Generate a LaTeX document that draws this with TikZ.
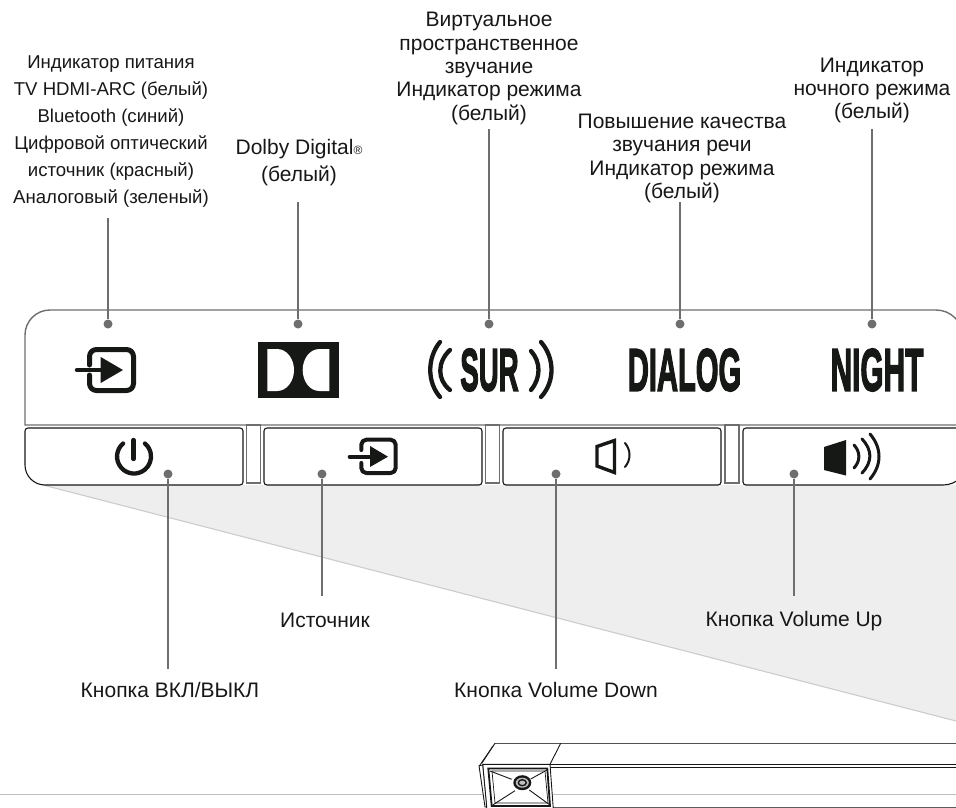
\documentclass[tikz,border=0pt]{standalone}
\usepackage{fontspec}
\setmainfont{Liberation Sans}
\newfontfamily\logofont{Liberation Sans Bold}[FakeBold=3]
\definecolor{lead}{HTML}{6E6E6E}
\definecolor{ink}{HTML}{161816}
\definecolor{wedge}{HTML}{EEEEEE}
\tikzset{
  capa/.style={font=\fontsize{18.6}{27}\selectfont,align=center,text=ink,inner sep=0pt},
  capb/.style={font=\fontsize{21}{23.4}\selectfont,align=center,text=ink,inner sep=0pt},
  leader/.style={draw=lead,line width=1.5pt},
  pt/.style={circle,fill=lead,minimum size=9pt,inner sep=0pt},
  panel/.style={draw=lead,line width=1.4pt},
  gapbox/.style={draw=lead,line width=1.1pt},
  btn/.style={draw=ink,line width=1.1pt,fill=white},
  ico/.style={draw=ink,line width=5pt,line cap=round,line join=round},
  wave/.style={draw=ink,line width=4.3pt,line cap=round},
  ripple/.style={draw=ink,line width=3pt,line cap=round},
  bar/.style={draw=ink,line width=0.9pt},
  logo/.style={inner sep=0pt,text=ink,font=\fontsize{60}{60}\logofont},
}
\begin{document}
\begin{tikzpicture}[x=1pt,y=-1pt]
\useasboundingbox (0,0) rectangle (956,808);
\clip (0,0) rectangle (956,808);
% wedge
\fill[wedge] (43,485) -- (956,485) -- (956,721) -- cycle;
\draw[draw=black!20,line width=1.1pt] (43,485) -- (956,721);
% panel
\draw[panel] (25,425) -- (25,335) arc[start angle=180,end angle=270,radius=25] -- (936,310) arc[start angle=270,end angle=360,radius=27] -- (963,425) -- cycle;
\draw[gapbox] (246.5,425) rectangle (260.5,483);
\draw[gapbox] (485.5,425) rectangle (499.5,483);
\draw[gapbox] (725,425) rectangle (739,483);
% buttons
\draw[btn] (25,431) arc[start angle=180,end angle=270,radius=3] -- (240,428) arc[start angle=270,end angle=360,radius=3] -- (243,482) arc[start angle=0,end angle=90,radius=3] -- (45,485) arc[start angle=90,end angle=180,radius=20] -- cycle;
\draw[btn,rounded corners=3pt] (264,428) rectangle (482,485);
\draw[btn,rounded corners=3pt] (503,428) rectangle (721,485);
\draw[btn] (743,431) arc[start angle=180,end angle=270,radius=3] -- (970,428) -- (968,460) arc[start angle=0,end angle=90,radius=25] -- (746,485) arc[start angle=90,end angle=180,radius=3] -- cycle;
% Input icon (large)
\draw[ico,rounded corners=7pt] (89.5,365) -- (89.5,349.5) -- (133.5,349.5) -- (133.5,390.5) -- (89.5,390.5) -- (89.5,375);
\draw[ico,line width=4.5pt] (77,370) -- (102,370);
\fill[ink] (100.7,357) -- (123,370) -- (100.7,383) -- cycle;
% Dolby
\fill[ink] (257.7,342) rectangle (338.7,398.3);
\fill[white] (267.3,349) -- (277,349) .. controls (287,349) and (294,359) .. (294,370) .. controls (294,381) and (287,391) .. (277,391) -- (267.3,391) -- cycle;
\fill[white] (329.3,349) -- (319.5,349) .. controls (309.5,349) and (302.7,359) .. (302.7,370) .. controls (302.7,381) and (309.5,391) .. (319.5,391) -- (329.3,391) -- cycle;
% SUR
\draw[wave] (440,342) .. controls (427,358) and (427,382) .. (440,397);
\draw[wave] (450,350) .. controls (437,362) and (437,380) .. (450,390);
\node[logo] (sur) at (489.5,370) {\scalebox{0.46}[1]{SUR}};
\draw[wave] (531,351) .. controls (541,362) and (541,378) .. (531,390);
\draw[wave] (541,342) .. controls (555,358) and (555,382) .. (541,397);
\node[logo] (dlg) at (684.5,370) {\scalebox{0.486}[1]{DIALOG}};
\node[logo] (ngt) at (877,370) {\scalebox{0.497}[1]{NIGHT}};
% Power
\draw[ico,line width=4.3pt] (133.5,440) -- (133.5,459);
\draw[ico,line width=4.3pt] (123.1,443.5) arc[start angle=-130,end angle=-410,radius=17];
% input small
\draw[ico,line width=4pt,rounded corners=5pt] (361.3,450) -- (361.3,439.7) -- (395.7,439.7) -- (395.7,473) -- (361.3,473) -- (361.3,463);
\draw[ico,line width=3.6pt] (349.5,456.7) -- (372,456.7);
\fill[ink] (370,446) -- (388,456.7) -- (370,467) -- cycle;
% vol down
\draw[draw=ink,line width=3.4pt,line join=miter] (597,446.5) -- (614.5,440.5) -- (614.5,472.5) -- (597,466) -- cycle;
\draw[draw=ink,line width=2pt,line cap=round] (625,443) .. controls (631,450) and (631,460) .. (625,467);
% vol up
\fill[ink] (824,447) -- (846,440) -- (846,475.5) -- (824,470) -- cycle;
\draw[ripple] (854,445) .. controls (860.5,452) and (860.5,461) .. (854,468);
\draw[ripple] (862,439) .. controls (872.5,450) and (872.5,462) .. (862,473);
\draw[ripple] (870,434) .. controls (882,448) and (882,465) .. (870,479);
% leaders top
\node[pt] (d1) at (108,324) {}; \coordinate (e1) at (108,218); \draw[leader] (e1) -- (d1);
\node[pt] (d2) at (298,324) {}; \coordinate (e2) at (298,202); \draw[leader] (e2) -- (d2);
\node[pt] (d3) at (489,324) {}; \coordinate (e3) at (489,129); \draw[leader] (e3) -- (d3);
\node[pt] (d4) at (680,324) {}; \coordinate (e4) at (680,202); \draw[leader] (e4) -- (d4);
\node[pt] (d5) at (872,324) {}; \coordinate (e5) at (872,129); \draw[leader] (e5) -- (d5);
% leaders bottom
\node[pt] (u1) at (168,474) {}; \coordinate (f1) at (168,669); \draw[leader] (u1) -- (f1);
\node[pt] (u2) at (322,474) {}; \coordinate (f2) at (322,596); \draw[leader] (u2) -- (f2);
\node[pt] (u3) at (556,474) {}; \coordinate (f3) at (556,669); \draw[leader] (u3) -- (f3);
\node[pt] (u4) at (794,474) {}; \coordinate (f4) at (794,596); \draw[leader] (u4) -- (f4);
% text
\node[capa] (t1) at (111,131.5) {Индикатор питания\\TV HDMI-ARC (белый)\\Bluetooth (синий)\\Цифровой оптический\\источник (красный)\\Аналоговый (зеленый)};
\node[capb] (t2) at (299,162.5) {Dolby Digital{\fontsize{12}{12}\selectfont\raisebox{-0.5pt}{®}}\\[4pt](белый)};
\node[capb] (t3) at (489,68.5) {Виртуальное\\пространственное\\звучание\\Индикатор режима\\(белый)};
\node[capb] (t4) at (682,158.5) {Повышение качества\\звучания речи\\Индикатор режима\\(белый)};
\node[capb] (t5) at (872,90.5) {Индикатор\\ночного режима\\(белый)};
\node[capb] (t6) at (170,689.5) {Кнопка ВКЛ/ВЫКЛ};
\node[capb] (t7) at (325,620) {Источник};
\node[capb] (t8) at (556,689.5) {Кнопка Volume Down};
\node[capb] (t9) at (794,621.5) {Кнопка Volume Up};
% floor
\draw[draw=black!25,line width=1pt] (0,794.5) -- (956,794.5);
% soundbar
\draw[bar,draw=ink!75] (495,743.3) -- (956,743.3);
\draw[bar] (482.7,764.3) -- (956,764.3);
\draw[bar] (550,767.3) -- (956,767.3);
\draw[bar,draw=ink!70] (553,807) -- (956,807);
\draw[bar] (495,743.3) -- (480,765);
\draw[bar] (493,746) -- (482,763);
\draw[bar] (560.7,743.3) -- (550,764.3);
\draw[bar,fill=white] (482.7,764.3) -- (550,764.3) -- (553.3,809) -- (486.7,809) -- cycle;
\draw[bar,fill=white] (479,765.7) -- (482.7,765) -- (486.7,807) -- (485,807) -- cycle;
\draw[bar,line width=1.8pt] (488.3,768.5) -- (547.3,768.5) -- (550,806) -- (491.7,806) -- cycle;
\draw[bar,line width=0.7pt] (492,771) -- (545,771) -- (548,803) -- (495,803) -- cycle;
\draw[bar] (490,771) -- (511.7,779.3);
\draw[bar] (547,770) -- (530.7,779);
\draw[bar] (492.7,805) -- (515,790.7);
\draw[bar] (550,805) -- (529.3,790);
\fill[ink] (522.3,782.7) ellipse [x radius=9,y radius=7.5];
\fill[white!75!black] (522.3,782.7) ellipse [x radius=6.5,y radius=5];
\draw[bar,line width=1.4pt] (522.3,782.7) ellipse [x radius=4,y radius=3];
\end{tikzpicture}
\end{document}
